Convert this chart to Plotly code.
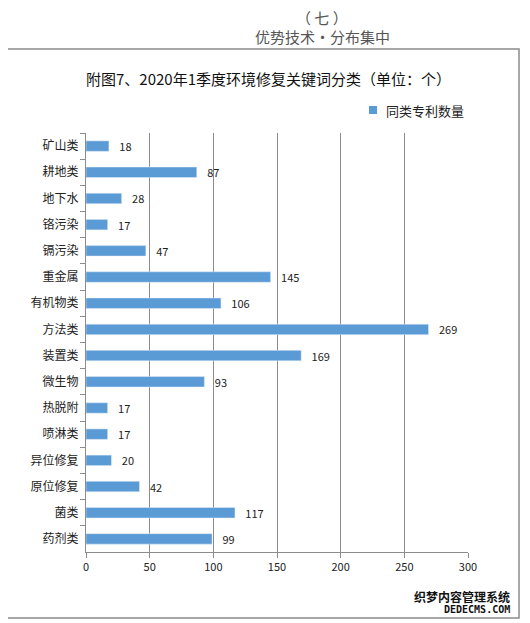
import plotly.graph_objects as go

categories = ["矿山类", "耕地类", "地下水", "铬污染", "镉污染", "重金属", "有机物类", "方法类",
              "装置类", "微生物", "热脱附", "喷淋类", "异位修复", "原位修复", "菌类", "药剂类"]
counts = [18, 87, 28, 17, 47, 145, 106, 269, 169, 93, 17, 17, 20, 42, 117, 99]
series_name = "同类专利数量"
x_ticks = [0, 50, 100, 150, 200, 250, 300]

# the page body adds an 8px margin, so the figure is drawn 8px smaller and shifted
OFF = 8
W, H = 530 - OFF, 623 - OFF
L, R, T, B = 86 - OFF, 468 - OFF, 133 - OFF, 552 - OFF   # plot area in pixels


def px(x):
    return (x - OFF - L) / (R - L)


def py(y):
    return (B - (y - OFF)) / (B - T)


font = "Noto Sans CJK SC, Noto Sans, sans-serif"
bar_color = "#5B9BD5"
grid = "#8C8C8C"

fig = go.Figure()
fig.add_trace(go.Bar(
    y=categories,
    x=counts,
    orientation="h",
    name=series_name,
    marker_color=bar_color,
    text=counts,
    texttemplate="   %{text}",
    textposition="outside",
    constraintext="none",
    textfont=dict(size=11, color="#222222"),
    cliponaxis=False,
    showlegend=False,
))

fig.update_layout(
    width=W, height=H,
    margin=dict(l=L, r=W - R, t=T, b=H - B),
    plot_bgcolor="white", paper_bgcolor="white",
    font=dict(family=font, color="#222222"),
    bargap=0.6,
    xaxis=dict(range=[0, 300], tickvals=x_ticks, showgrid=True, gridcolor=grid, gridwidth=1,
               showline=True, linecolor=grid, ticks="outside", ticklen=5, tickcolor=grid,
               tickfont=dict(size=11), zeroline=False, fixedrange=True),
    yaxis=dict(autorange="reversed", showline=True, linecolor=grid, ticks="outside",
               tickson="boundaries", ticklen=5, tickcolor=grid, tickfont=dict(size=12),
               ticklabelstandoff=4, fixedrange=True),
    shapes=[
        dict(type="rect", xref="paper", yref="paper", x0=px(7), x1=px(519), y0=py(618), y1=py(49),
             line=dict(color="#8C8C8C", width=1.5), layer="below"),
        dict(type="rect", xref="paper", yref="paper", x0=px(369), x1=px(377), y0=py(114), y1=py(106),
             fillcolor=bar_color, line=dict(width=0)),
    ],
    annotations=[
        dict(text="（ 七 ）", x=px(322), y=py(17), xref="paper", yref="paper", showarrow=False,
             yanchor="middle", font=dict(size=15, color="#555555")),
        dict(text="优势技术·分布集中", x=px(322), y=py(37), xref="paper", yref="paper", showarrow=False,
             yanchor="middle", font=dict(size=15, color="#555555")),
        dict(text="附图7、2020年1季度环境修复关键词分类（单位：个）", x=px(268), y=py(78),
             xref="paper", yref="paper", showarrow=False, yanchor="middle",
             font=dict(size=15, color="#111111")),
        dict(text=series_name, x=px(384), y=py(110), xref="paper", yref="paper", showarrow=False,
             xanchor="left", yanchor="middle", font=dict(size=13, color="#222222")),
        dict(text="<b>织梦内容管理系统</b>", x=px(512), y=py(596), xref="paper", yref="paper",
             showarrow=False, xanchor="right", yanchor="middle", font=dict(size=12, color="#111111")),
        dict(text="<b>DEDECMS.COM</b>", x=px(512), y=py(609), xref="paper", yref="paper",
             showarrow=False, xanchor="right", yanchor="middle",
             font=dict(size=10, color="#111111", family="DejaVu Sans Mono")),
    ],
)

fig.write_html("out.html")
